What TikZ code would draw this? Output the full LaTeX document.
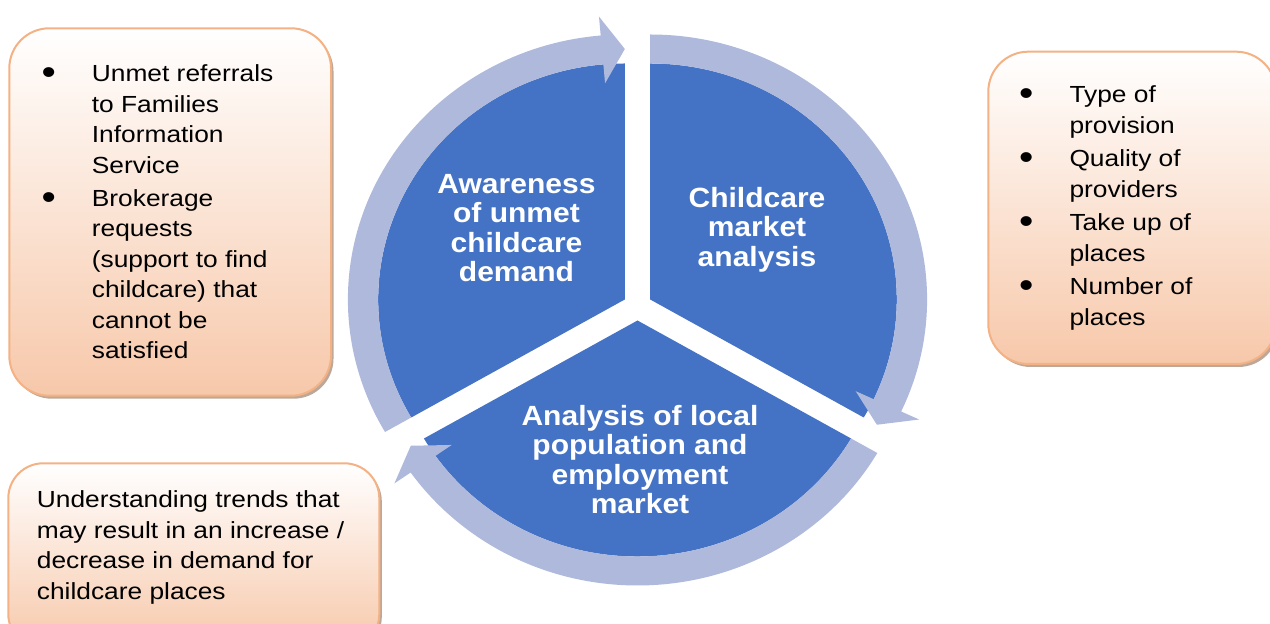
\documentclass[tikz,border=0pt]{standalone}
\usepackage{fontspec}
\usepackage{graphicx}
\setmainfont{Liberation Sans}[FakeStretch=1.13]
\newfontfamily\circfont{Liberation Sans}[FakeStretch=1.08]
\usetikzlibrary{shadows}
\definecolor{segblue}{HTML}{4472C4}
\definecolor{ringblue}{HTML}{AEB9DC}
\definecolor{boxedge}{HTML}{F4B183}
\definecolor{boxfill}{HTML}{F7C8AA}
\definecolor{boxshadow}{HTML}{BCA798}
\newcommand{\bul}{\llap{\raisebox{-3bp}{\scalebox{1.55}{\textbullet}}\hspace{36bp}}}
\tikzset{
  seg/.style={fill=segblue},
  ring/.style={fill=ringblue},
  segtext/.style={text=white, font=\circfont\bfseries\fontsize{27.8bp}{29.5bp}\selectfont, align=center, inner sep=0pt},
  infobox/.style={draw=boxedge, line width=2bp, top color=white, bottom color=boxfill,
    inner sep=0pt, anchor=south west,
    drop shadow={shadow xshift=2.5bp, shadow yshift=-3bp, fill=boxshadow, opacity=1}},
  boxtext/.style={text=black, font=\fontsize{23.3bp}{30.5bp}\selectfont, align=left, inner sep=0pt, anchor=north west}
}
\begin{document}
\begin{tikzpicture}[x=1bp,y=1bp]
\useasboundingbox (0,0) rectangle (1270,624);
\clip (0,0) rectangle (1270,624);

% information boxes
\node[infobox, rounded corners=40bp, minimum width=321.7bp, minimum height=367.4bp] (box1) at (8.3,227.3) {};
\node[infobox, rounded corners=40bp, minimum width=287.7bp, minimum height=312.3bp] (box2) at (987.3,259) {};
\node[infobox, rounded corners=35bp, minimum width=371bp, minimum height=185.7bp] (box3) at (7.3,-26) {};

\node[boxtext] (t1) at (91.7,559.3) {\bul Unmet referrals\\to Families\\Information\\Service\\[2.5bp]\bul Brokerage\\requests\\(support to find\\childcare) that\\cannot be\\satisfied};
\node[boxtext] (t2) at (1069.3,538.2) {\bul Type of\\provision\\[3bp]\bul Quality of\\providers\\[3bp]\bul Take up of\\places\\[3bp]\bul Number of\\places};
\node[boxtext] (t3) at (36.7,133.2) {Understanding trends that\\may result in an increase /\\decrease in demand for\\childcare places};

% segmented cycle
\begin{scope}[shift={(637.5,317.5)}, xscale=1.045]
  \begin{scope}[shift={(150:14)}]
    \fill[seg] (0,0) -- (210:236) arc[start angle=210, end angle=90, radius=236] -- cycle;
    \fill[ring] (210:236) -- (210:265) arc[start angle=210, end angle=95, radius=265]
      -- (95:284) -- (90:250.5) -- (95:217) -- (95:236) arc[start angle=95, end angle=210, radius=236] -- cycle;
  \end{scope}
  \begin{scope}[shift={(30:14)}]
    \fill[seg] (0,0) -- (90:236) arc[start angle=90, end angle=-30, radius=236] -- cycle;
    \fill[ring] (90:236) -- (90:265) arc[start angle=90, end angle=-25, radius=265]
      -- (-25:284) -- (-30:250.5) -- (-25:217) -- (-25:236) arc[start angle=-25, end angle=90, radius=236] -- cycle;
  \end{scope}
  \begin{scope}[shift={(270:14)}]
    \fill[seg] (0,0) -- (-30:236) arc[start angle=-30, end angle=-150, radius=236] -- cycle;
    \fill[ring] (-30:236) -- (-30:265) arc[start angle=-30, end angle=-145, radius=265]
      -- (-145:284) -- (-150:250.5) -- (-145:217) -- (-145:236) arc[start angle=-145, end angle=-30, radius=236] -- cycle;
  \end{scope}
\end{scope}

\node[segtext] (s1) at (516.5,396) {Awareness\\of unmet\\childcare\\demand};
\node[segtext] (s2) at (757,394.5) {Childcare\\market\\analysis};
\node[segtext] (s3) at (640,164.5) {Analysis of local\\population and\\employment\\market};
\end{tikzpicture}
\end{document}
